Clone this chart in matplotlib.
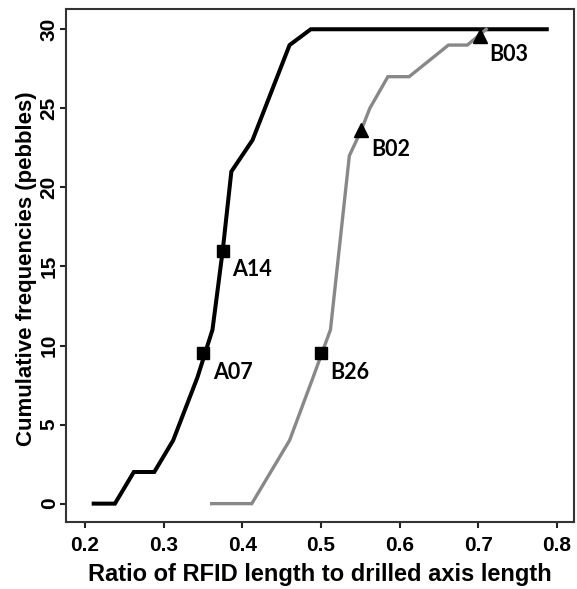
import numpy as np
import matplotlib
matplotlib.use('Agg')
import matplotlib.pyplot as plt
from matplotlib.font_manager import FontProperties

# cumulative frequency curves
black_x = [0.211, 0.238, 0.262, 0.288, 0.312, 0.343, 0.362, 0.375, 0.386, 0.413, 0.460, 0.487, 0.787]
black_y = [0, 0, 2, 2, 4, 8, 11, 16, 21, 23, 29, 30, 30]
gray_x = [0.361, 0.412, 0.460, 0.490, 0.512, 0.536, 0.551, 0.562, 0.585, 0.612, 0.662, 0.686, 0.710]
gray_y = [0, 0, 4, 8, 11, 22, 23.6, 25, 27, 27, 29, 29, 30]

# highlighted pebbles
sq_names = ['A07', 'A14', 'B26']
sq_x = [0.350, 0.375, 0.500]
sq_y = [9.5, 16.0, 9.5]
tri_names = ['B02', 'B03']
tri_x = [0.551, 0.702]
tri_y = [23.6, 29.6]

fig = plt.figure(figsize=(5.77, 5.89), dpi=100)
ax = fig.add_axes([0.1144, 0.1138, 0.8804, 0.8709])

ax.plot(black_x, black_y, color='black', lw=2.9, solid_joinstyle='miter', zorder=2)
ax.plot(gray_x, gray_y, color='#888888', lw=2.4, solid_joinstyle='miter', zorder=2)
ax.plot(sq_x, sq_y, 's', color='black', ms=8.6, zorder=3)
ax.plot(tri_x, tri_y, '^', color='black', ms=10, zorder=3)

lab_font = dict(family='Lato', weight='bold', fontsize=15.5)
for n, x, y in zip(sq_names + tri_names, sq_x + tri_x, sq_y + tri_y):
    ax.annotate(n, (x, y), xytext=(7, -6), textcoords='offset points',
                ha='left', va='top', **lab_font)

ax.set_xlim(0.1758, 0.8216)
ax.set_ylim(-1.16, 31.28)
ax.set_xticks(np.arange(0.2, 0.81, 0.1))
ax.set_xticklabels(['0.2', '0.3', '0.4', '0.5', '0.6', '0.7', '0.8'])
ax.set_yticks(range(0, 31, 5))
for lbl in ax.get_yticklabels():
    lbl.set_rotation(90)
    lbl.set_va('center')

tick_fp = FontProperties(family='Liberation Sans', weight='bold', size=15)
for lbl in ax.get_xticklabels() + ax.get_yticklabels():
    lbl.set_fontproperties(tick_fp)
ax.tick_params(width=1.5, length=4.5, color='#222222')
ax.tick_params(axis='x', pad=5.5)
ax.tick_params(axis='y', pad=0.8)
for s in ax.spines.values():
    s.set_linewidth(1.5)
    s.set_color('#333333')

ax.set_xlabel('Ratio of RFID length to drilled axis length',
              family='Liberation Sans', weight='bold', fontsize=17)
ax.set_ylabel('Cumulative frequencies (pebbles)',
              family='Liberation Sans', weight='bold', fontsize=16)
ax.xaxis.set_label_coords(0.5, -0.080)
ax.yaxis.set_label_coords(-0.058, 0.494)

fig.savefig('out.png', dpi=100)
